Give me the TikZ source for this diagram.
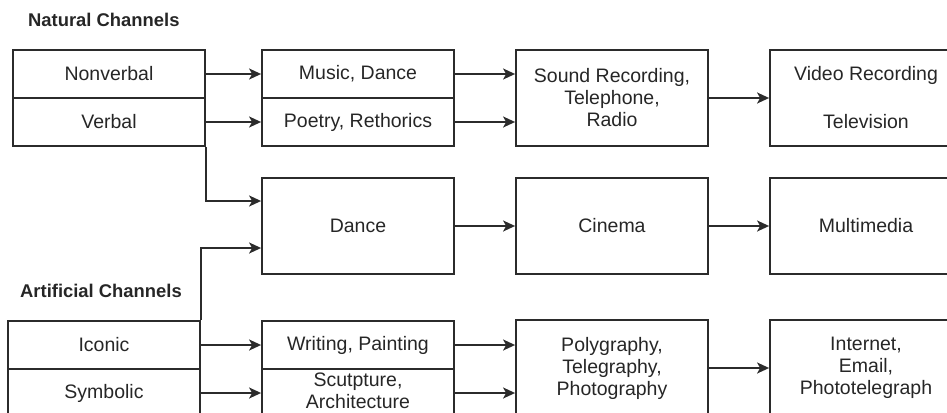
\documentclass[tikz,border=0pt]{standalone}
\usepackage{fontspec}
\setmainfont{Liberation Sans}
\usetikzlibrary{arrows.meta}
\definecolor{linec}{HTML}{2B2B2B}
\definecolor{textc}{HTML}{262626}
\begin{document}
\begin{tikzpicture}[x=1pt,y=-1pt,
  box/.style={draw=linec, line width=1.8pt, inner sep=0pt, align=center, text=textc,
    font=\fontsize{19.5}{22}\selectfont, minimum width=192pt},
  hbox/.style={box, minimum height=48pt},
  tbox/.style={box, minimum height=96pt},
  title/.style={anchor=west, inner sep=0pt, text=textc, font=\bfseries\fontsize{18.4}{22}\selectfont},
  arr/.style={draw=linec, line width=1.8pt, -{Stealth[length=12pt,width=11pt,inset=3pt]}}
]
\useasboundingbox (0,0) rectangle (947,412);
\clip (0,0) rectangle (947,412);

\node[title] (nat) at (28,20) {Natural Channels};
\node[title] (art) at (20,291) {Artificial Channels};

\node[hbox] (nonverbal) at (109,74) {Nonverbal};
\node[hbox] (verbal) at (109,122) {Verbal};
\node[hbox] (music) at (358,74) {Music, Dance};
\node[hbox] (poetry) at (358,122) {Poetry, Rethorics};
\node[tbox] (sound) at (612,98) {Sound Recording,\\Telephone,\\Radio};
\node[tbox] (video) at (866,98) {Video Recording\\[26pt]Television};

\node[tbox] (dance) at (358,226) {Dance};
\node[tbox] (cinema) at (612,226) {Cinema};
\node[tbox] (multimedia) at (866,226) {Multimedia};

\node[hbox] (iconic) at (104,345) {Iconic};
\node[hbox] (symbolic) at (104,393) {Symbolic};
\node[hbox] (writing) at (358,345) {Writing, Painting};
\node[hbox] (sculpture) at (358,393) {\raisebox{2pt}{\begin{tabular}{@{}c@{}}Scutpture,\\[-0.5pt]Architecture\end{tabular}}};
\node[tbox] (poly) at (612,368) {Polygraphy,\\Telegraphy,\\Photography};
\node[tbox] (internet) at (866,368) {Internet,\\Email,\\Phototelegraph};

\draw[arr] (nonverbal.east) -- (music.west);
\draw[arr] (verbal.east) -- (poetry.west);
\draw[arr] (music.east) -- (music.east -| sound.west);
\draw[arr] (poetry.east) -- (poetry.east -| sound.west);
\draw[arr] (sound.east) -- (video.west);
\draw[arr] (verbal.south east) |- ([yshift=25pt]dance.west);
\draw[arr] (iconic.north east) |- ([yshift=-22pt]dance.west);
\draw[arr] (dance.east) -- (cinema.west);
\draw[arr] (cinema.east) -- (multimedia.west);
\draw[arr] (iconic.east) -- (writing.west);
\draw[arr] (symbolic.east) -- (sculpture.west);
\draw[arr] (writing.east) -- (writing.east -| poly.west);
\draw[arr] (sculpture.east) -- (sculpture.east -| poly.west);
\draw[arr] (poly.east) -- (internet.west);
\end{tikzpicture}
\end{document}
